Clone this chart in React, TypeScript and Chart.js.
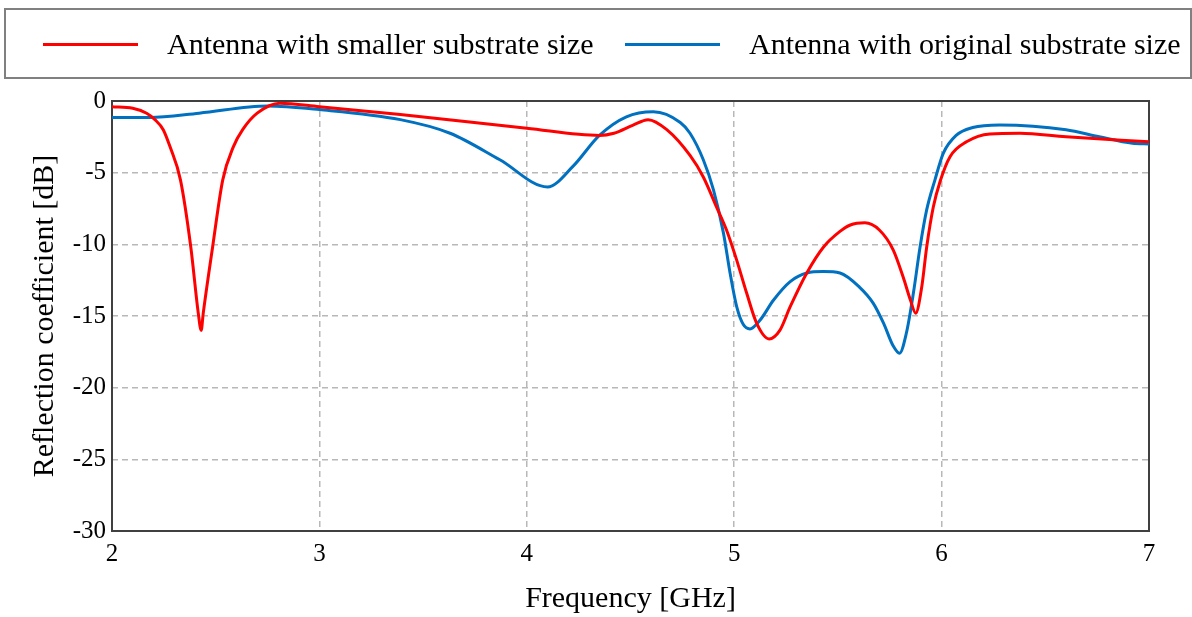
import React, { useEffect, useRef } from "react";
import { Chart, registerables } from "chart.js";

Chart.register(...registerables);

const seriesNames = ["Antenna with smaller substrate size", "Antenna with original substrate size"];
const seriesColors = ["#ff0000", "#0070c0"];

const smallerFreq = [2.0, 2.1, 2.167, 2.207, 2.247, 2.28, 2.33, 2.38, 2.416, 2.43, 2.44, 2.485, 2.534, 2.585, 2.63, 2.7, 2.81, 3.0, 3.39, 4.0, 4.35, 4.42, 4.51, 4.585, 4.675, 4.787, 4.851, 4.915, 4.963, 5.012, 5.06, 5.108, 5.168, 5.22, 5.27, 5.35, 5.43, 5.51, 5.56, 5.63, 5.7, 5.767, 5.815, 5.85, 5.875, 5.904, 5.928, 5.96, 5.993, 6.04, 6.12, 6.233, 6.378, 6.6, 7.0];
const smallerDb = [-0.4, -0.5, -0.85, -1.3, -2.0, -3.2, -5.5, -10.2, -14.8, -16.0, -14.8, -10.2, -5.5, -3.2, -2.0, -0.85, -0.15, -0.4, -0.95, -1.9, -2.4, -2.25, -1.7, -1.3, -2.0, -3.8, -5.3, -7.4, -9.0, -11.1, -13.4, -15.5, -16.6, -16.0, -14.35, -12.0, -10.2, -9.1, -8.65, -8.5, -9.0, -10.4, -12.3, -13.9, -14.8, -13.0, -10.2, -7.4, -5.6, -3.9, -2.85, -2.3, -2.25, -2.5, -2.85];

const originalFreq = [2.0, 2.18, 2.42, 2.75, 3.0, 3.39, 3.63, 3.87, 4.1, 4.22, 4.35, 4.48, 4.61, 4.74, 4.787, 4.851, 4.9, 4.948, 4.98, 5.012, 5.044, 5.076, 5.124, 5.189, 5.27, 5.35, 5.43, 5.51, 5.605, 5.67, 5.72, 5.767, 5.797, 5.83, 5.864, 5.896, 5.928, 5.968, 6.008, 6.07, 6.15, 6.28, 6.6, 6.76, 6.92, 7.0];
const originalDb = [-1.15, -1.15, -0.85, -0.35, -0.6, -1.3, -2.25, -4.1, -6.0, -4.6, -2.4, -1.1, -0.75, -1.5, -2.25, -4.1, -6.2, -9.2, -12.0, -14.35, -15.6, -15.9, -15.3, -13.9, -12.6, -12.0, -11.9, -12.0, -13.0, -14.1, -15.5, -17.1, -17.6, -16.2, -13.4, -10.2, -7.6, -5.5, -3.65, -2.4, -1.85, -1.67, -2.0, -2.5, -2.95, -3.0];

const xTicks = [2, 3, 4, 5, 6, 7];
const yTicks = [0, -5, -10, -15, -20, -25, -30];

const serif = "'Liberation Serif', 'Times New Roman', serif";

const frameBorder = {
  id: "frameBorder",
  beforeDatasetsDraw(chart: any) {
    const { ctx, chartArea } = chart;
    ctx.save();
    ctx.strokeStyle = "#404040";
    ctx.lineWidth = 2;
    ctx.strokeRect(chartArea.left, chartArea.top, chartArea.right - chartArea.left, chartArea.bottom - chartArea.top);
    ctx.restore();
  },
};

export default function App() {
  const ref = useRef<HTMLCanvasElement | null>(null);

  useEffect(() => {
    if (!ref.current) return;
    const chart = new Chart(ref.current, {
      type: "line",
      data: {
        datasets: [
          {
            label: seriesNames[0],
            data: smallerFreq.map((f, i) => ({ x: f, y: smallerDb[i] })),
            borderColor: seriesColors[0],
            backgroundColor: seriesColors[0],
            borderWidth: 3,
            pointRadius: 0,
            cubicInterpolationMode: "monotone",
          },
          {
            label: seriesNames[1],
            data: originalFreq.map((f, i) => ({ x: f, y: originalDb[i] })),
            borderColor: seriesColors[1],
            backgroundColor: seriesColors[1],
            borderWidth: 3,
            pointRadius: 0,
            cubicInterpolationMode: "monotone",
          },
        ],
      },
      options: {
        animation: false,
        responsive: false,
        devicePixelRatio: 1,
        layout: { padding: { top: 101, right: 43, left: 0, bottom: 0 } },
        plugins: { legend: { display: false }, tooltip: { enabled: false } },
        scales: {
          x: {
            type: "linear",
            min: 2,
            max: 7,
            afterFit: (s: any) => { s.height = 86; },
            afterBuildTicks: (s: any) => { s.ticks = xTicks.map((v) => ({ value: v })); },
            ticks: { color: "#000", padding: 8, font: { family: serif, size: 25 } },
            grid: { color: "#b8b8b8", lineWidth: 1.5, drawTicks: false },
            border: { display: false, dash: [6, 4] },
            title: { display: true, text: "Frequency [GHz]", color: "#000", font: { family: serif, size: 30 }, padding: { top: 0, bottom: 0 } },
          },
          y: {
            type: "linear",
            min: -30,
            max: 0,
            afterFit: (s: any) => { s.width = 112; },
            afterBuildTicks: (s: any) => { s.ticks = yTicks.map((v) => ({ value: v })); },
            ticks: { color: "#000", padding: 6, font: { family: serif, size: 25 } },
            grid: { color: "#b8b8b8", lineWidth: 1.5, drawTicks: false },
            border: { display: false, dash: [6, 4] },
            title: { display: true, text: "Reflection coefficient [dB]", color: "#000", font: { family: serif, size: 30 }, padding: { top: 27, bottom: 0 } },
          },
        },
      },
      plugins: [frameBorder],
    } as any);
    return () => chart.destroy();
  }, []);

  const textStyle: React.CSSProperties = {
    position: "absolute",
    top: 44,
    transform: "translateY(-50%)",
    fontFamily: serif,
    fontSize: 30,
    color: "#000",
    whiteSpace: "nowrap",
    lineHeight: 1,
  };
  const lineStyle = (left: number, color: string): React.CSSProperties => ({
    position: "absolute",
    left,
    top: 43,
    width: 95,
    height: 3,
    background: color,
  });

  return (
    <div style={{ position: "fixed", left: 0, top: 0, width: 1192, height: 617, background: "#fff" }}>
      <canvas ref={ref} width={1192} height={617} style={{ position: "absolute", left: 0, top: 0, width: 1192, height: 617 }} />
      <div style={{ position: "absolute", left: 4, top: 8, width: 1184, height: 67, border: "2px solid #808080", boxSizing: "content-box" }} />
      <div style={lineStyle(43, seriesColors[0])} />
      <div style={{ ...textStyle, left: 167 }}>{seriesNames[0]}</div>
      <div style={lineStyle(625, seriesColors[1])} />
      <div style={{ ...textStyle, left: 749 }}>{seriesNames[1]}</div>
    </div>
  );
}
